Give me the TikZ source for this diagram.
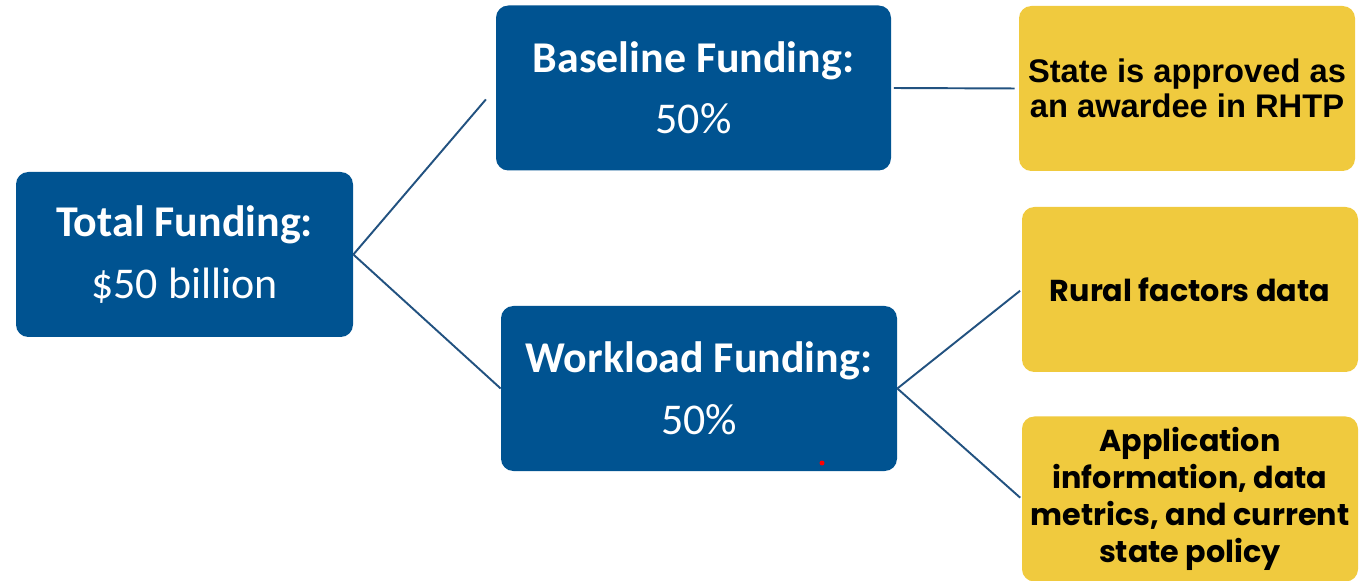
\documentclass[tikz,border=0pt]{standalone}
\usepackage{fontspec}
\setmainfont{Carlito}
\newfontfamily\popfont{Poppins}
\newfontfamily\arialfont{Liberation Sans}
\usetikzlibrary{positioning}

\definecolor{fundblue}{RGB}{0,83,145}
\definecolor{fundyellow}{RGB}{240,202,62}
\definecolor{linkblue}{RGB}{34,82,128}

\tikzset{
  bluebox/.style={rectangle, rounded corners=7pt, fill=fundblue, text=white,
    align=center, inner sep=0pt, minimum height=3.3cm, font=\fontsize{25}{35}\selectfont},
  yellowbox/.style={rectangle, rounded corners=7pt, fill=fundyellow, text=black,
    align=center, inner sep=0pt, minimum width=6.72cm, minimum height=3.3cm,
    font=\popfont\bfseries\fontsize{17.2}{21}\selectfont},
  link/.style={draw=linkblue, line width=1.1pt}
}

\begin{document}
\begin{tikzpicture}
  \useasboundingbox (0,0) rectangle (27.42,11.6);
  \clip (0,0) rectangle (27.42,11.6);

  % funding boxes
  \node[bluebox, minimum width=6.74cm] (total) at (3.69,6.51) {\textbf{Total Funding:}\\\$50 billion};
  \node[bluebox, minimum width=7.9cm] (base) at (13.87,9.84) {\textbf{Baseline Funding:}\\50\%};
  \node[bluebox, minimum width=7.92cm] (work) at (13.98,3.83) {\textbf{Workload Funding:}\\50\%};

  % criteria boxes
  \node[yellowbox, font=\arialfont\bfseries\fontsize{18.6}{20}\selectfont] (state) at (23.74,9.83)
    {State is approved as\\an awardee in RHTP};
  \node[yellowbox] (rural) at (23.80,5.81) {Rural factors data};
  \node[yellowbox] (app) at (23.80,1.62)
    {Application\\information, data\\metrics, and current\\state policy};

  % connectors
  \draw[link, shorten >=0.3cm] (total.east) -- (base.west);
  \draw[link] (total.east) -- (work.west);
  \draw[link, shorten <=0.05cm, shorten >=0.08cm] (base.east) -- (state.west);
  \draw[link, shorten >=0.04cm] (work.east) -- (rural.west);
  \draw[link, shorten >=0.04cm] (work.east) -- (app.west);

  % stray mark
  \fill[red] (16.44,2.34) circle (0.05);
\end{tikzpicture}
\end{document}
